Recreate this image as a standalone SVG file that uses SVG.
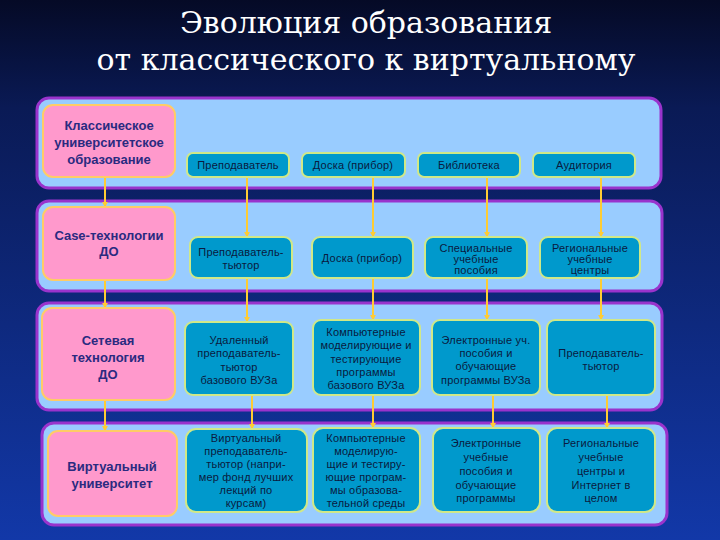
<svg xmlns="http://www.w3.org/2000/svg" width="720" height="540" viewBox="0 0 720 540">
<defs>
<linearGradient id="bg" x1="0" y1="0" x2="0" y2="1">
<stop offset="0" stop-color="#050a26"/>
<stop offset="0.2" stop-color="#0a1a55"/>
<stop offset="1" stop-color="#1238a8"/>
</linearGradient>
<marker id="ah" viewBox="0 0 8 8" refX="7" refY="4" markerWidth="6" markerHeight="6" orient="auto" markerUnits="userSpaceOnUse">
<path d="M0,0 L8,4 L0,8 z" fill="#ffcc33"/>
</marker>
<style>
.band{fill:#99ccff;stroke:#9933cc;stroke-width:3}
.pink{fill:#ff99cc;stroke:#ffcc66;stroke-width:2}
.teal{fill:#0099cc;stroke:#d0e888;stroke-width:2}
.pt{font-family:"Liberation Sans",Arial,sans-serif;font-weight:bold;font-size:13px;fill:#2a2a80;text-anchor:middle}
.tt{font-family:"Liberation Sans",Arial,sans-serif;font-size:11px;letter-spacing:0.2px;fill:#0a1a40;text-anchor:middle}
.title{font-family:'DejaVu Serif','Liberation Serif',serif;font-size:30px;fill:#ffffff;text-anchor:middle}
.con{stroke:#ffcc33;stroke-width:2;fill:none;marker-end:url(#ah)}
</style>
</defs>
<rect x="0" y="0" width="720" height="540" fill="url(#bg)"/>
<text class="title" x="366" y="33">Эволюция образования</text>
<text class="title" x="366" y="70">от классического к виртуальному</text>

<g id="bands">
<rect class="band" x="37" y="98" width="624" height="90" rx="12"/>
<rect class="band" x="37" y="201" width="625" height="90" rx="12"/>
<rect class="band" x="37" y="303" width="625" height="107" rx="12"/>
<rect class="band" x="42" y="423" width="625" height="102" rx="12"/>
</g>

<g id="connectors">
<line class="con" x1="105" y1="177" x2="105" y2="207"/>
<line class="con" x1="105" y1="280" x2="105" y2="308"/>
<line class="con" x1="105" y1="400" x2="105" y2="431"/>
<line class="con" x1="247" y1="177" x2="247" y2="237"/>
<line class="con" x1="247" y1="278" x2="247" y2="322"/>
<line class="con" x1="252" y1="395" x2="252" y2="429"/>
<line class="con" x1="373" y1="177" x2="373" y2="237"/>
<line class="con" x1="373" y1="278" x2="373" y2="320"/>
<line class="con" x1="373" y1="395" x2="373" y2="428"/>
<line class="con" x1="487" y1="177" x2="487" y2="237"/>
<line class="con" x1="487" y1="278" x2="487" y2="320"/>
<line class="con" x1="493" y1="395" x2="493" y2="428"/>
<line class="con" x1="601" y1="177" x2="601" y2="237"/>
<line class="con" x1="601" y1="278" x2="601" y2="320"/>
<line class="con" x1="607" y1="395" x2="607" y2="428"/>
</g>

<g id="n-classic">
<rect class="pink" x="43" y="105" width="132" height="72" rx="10"/>
<text class="pt" x="109" y="130">Классическое</text>
<text class="pt" x="109" y="147">университетское</text>
<text class="pt" x="109" y="164">образование</text>
</g>
<g id="n-r1c1">
<rect class="teal" x="187" y="153" width="102" height="24" rx="6"/>
<text class="tt" x="238" y="169">Преподаватель</text>
</g>
<g id="n-r1c2">
<rect class="teal" x="302" y="153" width="103" height="24" rx="6"/>
<text class="tt" x="353" y="169">Доска (прибор)</text>
</g>
<g id="n-r1c3">
<rect class="teal" x="418" y="153" width="102" height="24" rx="6"/>
<text class="tt" x="469" y="169">Библиотека</text>
</g>
<g id="n-r1c4">
<rect class="teal" x="533" y="153" width="102" height="24" rx="6"/>
<text class="tt" x="584" y="169">Аудитория</text>
</g>

<g id="n-case">
<rect class="pink" x="43" y="207" width="132" height="73" rx="10"/>
<text class="pt" x="109" y="240">Case-технологии</text>
<text class="pt" x="109" y="256">ДО</text>
</g>
<g id="n-r2c1">
<rect class="teal" x="190" y="237" width="102" height="41" rx="8"/>
<text class="tt" x="241" y="256">Преподаватель-</text>
<text class="tt" x="241" y="269">тьютор</text>
</g>
<g id="n-r2c2">
<rect class="teal" x="312" y="237" width="101" height="41" rx="8"/>
<text class="tt" x="362" y="262">Доска (прибор)</text>
</g>
<g id="n-r2c3">
<rect class="teal" x="425" y="237" width="102" height="41" rx="8"/>
<text class="tt" x="476" y="252">Специальные</text>
<text class="tt" x="476" y="263">учебные</text>
<text class="tt" x="476" y="274">пособия</text>
</g>
<g id="n-r2c4">
<rect class="teal" x="540" y="237" width="100" height="41" rx="8"/>
<text class="tt" x="590" y="252">Региональные</text>
<text class="tt" x="590" y="263">учебные</text>
<text class="tt" x="590" y="274">центры</text>
</g>

<g id="n-net">
<rect class="pink" x="42" y="308" width="133" height="92" rx="10"/>
<text class="pt" x="108" y="345">Сетевая</text>
<text class="pt" x="108" y="362">технология</text>
<text class="pt" x="108" y="379">ДО</text>
</g>
<g id="n-r3c1">
<rect class="teal" x="185" y="322" width="108" height="73" rx="8"/>
<text class="tt" x="239" y="344">Удаленный</text>
<text class="tt" x="239" y="357">преподаватель-</text>
<text class="tt" x="239" y="371">тьютор</text>
<text class="tt" x="239" y="384">базового ВУЗа</text>
</g>
<g id="n-r3c2">
<rect class="teal" x="313" y="320" width="107" height="75" rx="8"/>
<text class="tt" x="366" y="336">Компьютерные</text>
<text class="tt" x="366" y="349">моделирующие и</text>
<text class="tt" x="366" y="363">тестирующие</text>
<text class="tt" x="366" y="376">программы</text>
<text class="tt" x="366" y="389">базового ВУЗа</text>
</g>
<g id="n-r3c3">
<rect class="teal" x="432" y="320" width="108" height="75" rx="8"/>
<text class="tt" x="486" y="344">Электронные уч.</text>
<text class="tt" x="486" y="357">пособия и</text>
<text class="tt" x="486" y="370">обучающие</text>
<text class="tt" x="486" y="384">программы ВУЗа</text>
</g>
<g id="n-r3c4">
<rect class="teal" x="547" y="320" width="108" height="75" rx="8"/>
<text class="tt" x="601" y="357">Преподаватель-</text>
<text class="tt" x="601" y="370">тьютор</text>
</g>

<g id="n-virt">
<rect class="pink" x="48" y="431" width="129" height="85" rx="10"/>
<text class="pt" x="112" y="471">Виртуальный</text>
<text class="pt" x="112" y="488">университет</text>
</g>
<g id="n-r4c1">
<rect class="teal" x="186" y="429" width="121" height="83" rx="10"/>
<text class="tt" x="246" y="442">Виртуальный</text>
<text class="tt" x="246" y="455">преподаватель-</text>
<text class="tt" x="246" y="468">тьютор (напри-</text>
<text class="tt" x="246" y="481">мер фонд лучших</text>
<text class="tt" x="246" y="494">лекций по</text>
<text class="tt" x="246" y="507">курсам)</text>
</g>
<g id="n-r4c2">
<rect class="teal" x="313" y="428" width="107" height="84" rx="10"/>
<text class="tt" x="366" y="442">Компьютерные</text>
<text class="tt" x="366" y="455">моделирую-</text>
<text class="tt" x="366" y="468">щие и тестиру-</text>
<text class="tt" x="366" y="481">ющие програм-</text>
<text class="tt" x="366" y="494">мы образова-</text>
<text class="tt" x="366" y="507">тельной среды</text>
</g>
<g id="n-r4c3">
<rect class="teal" x="433" y="428" width="107" height="84" rx="10"/>
<text class="tt" x="486" y="447">Электронные</text>
<text class="tt" x="486" y="461">учебные</text>
<text class="tt" x="486" y="475">пособия и</text>
<text class="tt" x="486" y="489">обучающие</text>
<text class="tt" x="486" y="502">программы</text>
</g>
<g id="n-r4c4">
<rect class="teal" x="547" y="428" width="108" height="84" rx="10"/>
<text class="tt" x="601" y="447">Региональные</text>
<text class="tt" x="601" y="461">учебные</text>
<text class="tt" x="601" y="475">центры и</text>
<text class="tt" x="601" y="489">Интернет в</text>
<text class="tt" x="601" y="502">целом</text>
</g>
</svg>
